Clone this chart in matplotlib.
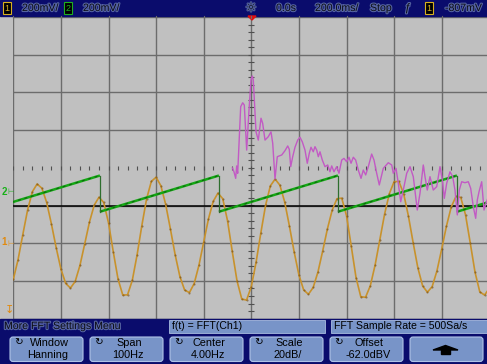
import numpy as np
import matplotlib.pyplot as plt
import matplotlib.patheffects as pe
from matplotlib.patches import Rectangle, FancyBboxPatch, Polygon

# channel 1, one sample every 20 ms starting at -1000 ms [mV]
ch1_mv = [-192, -87, 46, 176, 273, 314, 292, 217, 103, -23,
          -137, -213, -238, -203, -118, -4, 112, 202, 244, 216,
          108, -45, -190, -275, -274, -197, -63, 93, 235, 328,
          350, 305, 207, 76, -61, -177, -249, -262, -214, -117,
          6, 129, 222, 266, 236, 120, -44, -200, -296, -302,
          -230, -102, 54, 201, 304, 340, 308, 220, 92, -46,
          -168, -248, -271, -235, -153, -41, 77, 176, 236, 239,
          146, -16, -182, -284, -287, -226, -117, 18, 154, 263,
          326, 328, 263, 145, 3, -132, -227, -260, -230, -147,
          -31, 91, 192, 248, 243, 151, 1, -154, -258, -275,
          -240]
ch1_t0 = -1000
ch1_dt = 20

# channel 2 sawtooth: reset instants [ms] and ramp levels [mV]
ch2_resets = [-636, -136, 364, 864]
ch2_period = 500
ch2_low = -105
ch2_high = 87

# FFT(Ch1) magnitude
fft_hz = [0.05, 0.37, 0.72, 0.93, 1.14, 1.77, 2.19, 2.53, 3.03, 3.52,
          3.94, 4.21, 4.42, 4.99, 5.47, 6.04, 6.39, 6.88, 7.57, 8.14,
          8.50, 8.98, 9.46, 10.39, 11.08, 11.65, 11.98, 12.28, 12.70, 13.18,
          13.75, 14.23, 14.71, 15.28, 15.76, 16.18, 16.54, 17.02, 17.38, 17.74,
          18.08, 18.43, 18.92, 19.48, 20.05, 20.53, 20.89, 21.37, 21.94, 22.42,
          22.99, 23.47, 24.04, 24.52, 24.95, 25.43, 25.93, 26.48, 27.05, 27.53,
          28.03, 28.58, 29.29, 29.78, 30.34, 30.89, 31.73, 32.78, 33.50, 33.83,
          34.40, 34.88, 35.39, 35.93, 36.65, 37.34, 38.03, 38.87, 39.44, 40.13,
          40.49, 40.97, 41.54, 42.23, 42.95, 43.64, 44.13, 44.55, 45.05, 45.74,
          46.31, 46.79, 47.28, 47.70, 48.20, 48.89, 49.59, 50.09, 50.64, 51.14,
          51.48, 51.84, 52.40, 52.89, 53.31, 53.94]
fft_dbv = [-62.1, -64.2, -67.6, -61.0, -64.9, -29.6, -27.5, -28.7, -52.6, -31.3,
           -15.4, -13.3, -15.4, -42.9, -47.3, -35.7, -38.4, -47.3, -45.5, -42.9,
           -49.0, -67.9, -56.1, -55.2, -52.9, -50.4, -52.2, -61.4, -56.1, -51.1,
           -47.3, -45.8, -48.2, -52.6, -59.6, -54.3, -51.1, -53.5, -50.8, -52.6,
           -56.1, -53.5, -57.9, -61.4, -60.5, -64.1, -61.0, -64.1, -61.4, -64.9,
           -57.9, -57.0, -58.8, -56.4, -59.6, -56.4, -57.9, -63.2, -67.6, -63.2,
           -65.8, -61.4, -54.7, -57.9, -64.9, -71.1, -62.3, -59.3, -60.5, -64.9,
           -62.3, -70.2, -80.0, -73.8, -64.9, -61.4, -66.7, -84.4, -75.5, -60.5,
           -66.7, -73.8, -66.7, -73.8, -72.0, -61.4, -68.5, -78.2, -70.2, -64.1,
           -66.7, -73.8, -87.0, -73.8, -69.4, -69.9, -69.4, -72.9, -82.6, -88.8,
           -79.1, -74.7, -69.4, -84.4, -80.8, -76.4]

# scope settings
time_div = 200       # ms/div
ch1_div, ch1_pos = 200, -2.0    # mV/div, ground in divisions
ch2_div, ch2_pos = 200, -0.64
fft_center, fft_span = 4.0, 100.0   # Hz
fft_scale, fft_offset = 20.0, -62.0  # dB/div, dBV
ref_level = -1.0

status_texts = ['200mV/', '200mV/', '0.0s', '200.0ms/', 'Stop', '-807mV']
softkeys = [('Window', 'Hanning'), ('Span', '100Hz'), ('Center', '4.00Hz'),
            ('Scale', '20dB/'), ('Offset', '-62.0dBV')]

NAVY = '#0a0c6c'
KEY = '#7894c8'
BG = '#c0c0c0'
GRID = '#6c6c6c'

W, H = 487, 364
fig = plt.figure(figsize=(W / 100, H / 100), dpi=100, facecolor=BG)

# graticule: 10 x 8 divisions
gx0, gdx, gy0, gdy = 13.3, 47.6, 17.0, 37.7
ax = fig.add_axes([gx0 / W, 1 - (gy0 + 8 * gdy) / H, 10 * gdx / W, 8 * gdy / H])
ax.set_facecolor(BG)
ax.set_xlim(-5 * time_div, 5 * time_div)
ax.set_ylim(-4, 4)
for s in ax.spines.values():
    s.set_visible(False)
ax.set_xticks([])
ax.set_yticks([])

for k in range(-4, 5):
    if k != 0:
        ax.axhline(k, color=GRID, lw=1.0, zorder=1)
for k in range(-5, 6):
    ax.axvline(k * time_div, color=GRID, lw=1.0, zorder=1)
# minor ticks along the centre lines
mx = np.arange(-5 * time_div, 5 * time_div + 1, time_div / 5)
ax.plot(mx, np.zeros_like(mx), ls='none', marker='|', ms=3, mew=0.8, color='#505050', zorder=1)
my = np.arange(-4, 4.01, 0.2)
ax.plot(np.zeros_like(my), my, ls='none', marker='_', ms=4, mew=0.8, color='#505050', zorder=1)

ax.axhline(ref_level, color='black', lw=1.1, zorder=2)

# channel 1
t1 = ch1_t0 + ch1_dt * np.arange(len(ch1_mv))
y1 = ch1_pos + np.array(ch1_mv) / ch1_div
ax.plot(t1, y1, color='#c8922c', lw=1.2, zorder=3)
ax.plot(t1, y1, ls='none', marker='.', ms=1.0, color='#6a4210', alpha=0.6, zorder=3)

# channel 2 sawtooth
starts = [ch2_resets[0] - ch2_period] + ch2_resets
lo = ch2_pos + ch2_low / ch2_div
hi = ch2_pos + ch2_high / ch2_div
for s in starts:
    ax.plot([s, s + ch2_period], [lo, hi], color='#14a814', lw=1.8, zorder=4,
            solid_capstyle='butt')
    ax.plot([s, s + ch2_period], [lo, hi], color='#0b4a0b', lw=0.8, zorder=4,
            alpha=0.7, dashes=(2.5, 3.5))
for r in ch2_resets:
    ax.plot([r, r], [hi, lo], color='#2e6e2e', lw=0.9, zorder=4)

# FFT, mapped onto the same screen divisions
fx = (np.array(fft_hz) - fft_center) / (fft_span / 10) * time_div
fy = (np.array(fft_dbv) - fft_offset) / fft_scale
ax.plot(fx, fy, color='#c25ac4', lw=1.0, zorder=5)

# status line and softkey menu in screen pixels
ui = fig.add_axes([0, 0, 1, 1], facecolor='none')
ui.set_xlim(0, W)
ui.set_ylim(H, 0)
ui.axis('off')

halo = [pe.withStroke(linewidth=1.6, foreground='#5462a0')]
def dark(x, y, s, ha='left', size=7.6, family='Liberation Sans'):
    ui.text(x, y, s, ha=ha, va='center', fontsize=size, color='#0c0c14',
            family=family, path_effects=halo)

ui.add_patch(Rectangle((0, 0), W, 16, color=NAVY))
for x in [gx0 + k * gdx for k in range(11)]:
    ui.plot([x, x], [16, 17.5], color=GRID, lw=0.8)
ui.add_patch(Polygon([[248, 16], [256, 16], [252, 20]], color='#e01010'))

def chbox(x, label, fg):
    ui.add_patch(Rectangle((x, 2), 8, 12, facecolor='black', edgecolor=fg, lw=0.8))
    ui.text(x + 4, 8.3, label, ha='center', va='center', fontsize=6.5, color=fg,
            family='Liberation Sans')

chbox(3, '1', '#d8b020')
dark(22, 8, status_texts[0])
chbox(64, '2', '#20b020')
dark(83, 8, status_texts[1])
dark(251, 8, '\u263c', ha='center', size=9, family='DejaVu Sans')
dark(276, 8, status_texts[2])
dark(315, 8, status_texts[3])
dark(370, 8, status_texts[4])
dark(408, 8, '\u0192', ha='center', size=8)
chbox(425, '1', '#d8b020')
dark(445, 8, status_texts[5])

# channel markers on the left edge
def marker_y(pos):
    return gy0 + (4 - pos) * gdy

ui.text(4.5, marker_y(ch2_pos), '2', ha='center', va='center', fontsize=7,
        color='#18b018', fontweight='bold', family='Liberation Sans')
ui.text(10.5, marker_y(ch2_pos), '\u22a2', ha='center', va='center', fontsize=5.5,
        color='#18b018')
ui.text(4.5, marker_y(ch1_pos) - 1, '1', ha='center', va='center', fontsize=7,
        color='#e08a10', fontweight='bold', family='Liberation Sans')
ui.text(10.5, marker_y(ch1_pos), '\u22a2', ha='center', va='center', fontsize=5.5,
        color='#e08a10')
ui.text(9, 310, '\u21a7', ha='center', va='center', fontsize=8, color='#e08a10')

# bottom menu
ui.add_patch(Rectangle((0, 318.5), W, H - 318.5, color=NAVY))
dark(4, 326, 'More FFT Settings Menu')
for x0, txt in [(169, 'f(t) = FFT(Ch1)'), (331, 'FFT Sample Rate = 500Sa/s')]:
    ui.add_patch(Rectangle((x0, 319.5), 156, 13.3, facecolor=KEY,
                           edgecolor='#a8bce0', lw=0.6))
    ui.text(x0 + 3, 326.3, txt, ha='left', va='center', fontsize=7.6,
            color='black', family='Liberation Sans')

for i in range(6):
    bx = 10 + 80 * i
    ui.add_patch(FancyBboxPatch((bx + 2, 339), 69, 20.5,
                                boxstyle='round,pad=2,rounding_size=3',
                                facecolor=KEY, edgecolor='#b0c4e8', lw=0.8))
    if i < len(softkeys):
        top, bottom = softkeys[i]
        ui.text(bx + 9, 342, '\u21bb', ha='center', va='center', fontsize=7.5,
                color='black')
        ui.text(bx + 39, 343.3, top, ha='center', va='center', fontsize=7.8,
                color='black', family='Liberation Sans')
        ui.text(bx + 38, 355, bottom, ha='center', va='center', fontsize=7.8,
                color='black', family='Liberation Sans')
    else:
        ui.add_patch(Polygon([[433, 350], [458, 350], [445.5, 345.5]], color='black'))
        ui.add_patch(Rectangle((441, 350), 9, 3.5, color='black'))

fig.savefig('out.png', dpi=100, facecolor=BG)
